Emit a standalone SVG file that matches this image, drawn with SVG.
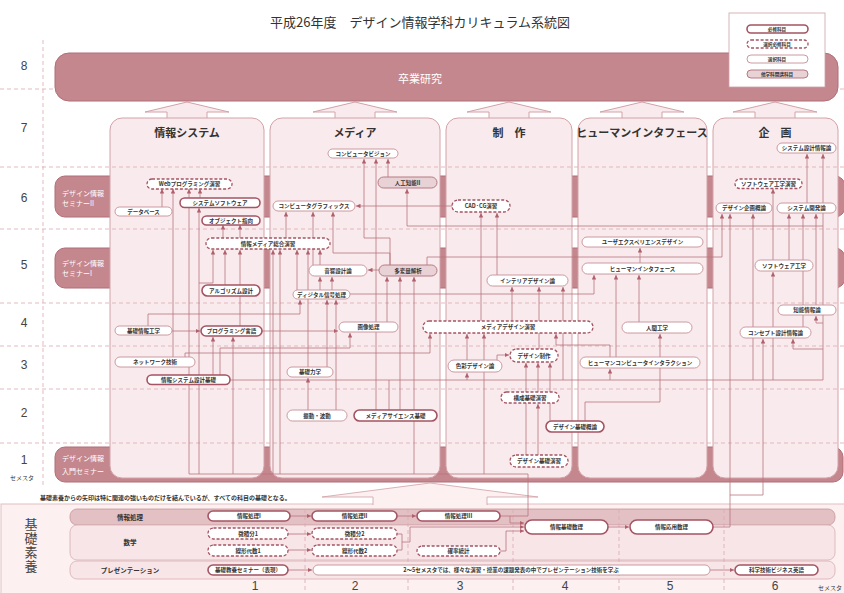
<svg xmlns="http://www.w3.org/2000/svg" width="844" height="593" viewBox="0 0 844 593">
<style>
.band{fill:#c5878e;stroke:#b06f78;stroke-width:1}
.col{fill:#f9ebed;stroke:#d2a2a8;stroke-width:1}
.arw{fill:#f9ebed;stroke:#d2a2a8;stroke-width:1}
.grid{stroke:#dcaab1;stroke-width:0.8;stroke-dasharray:4 3;fill:none}
.c{fill:none;stroke:#b9737e;stroke-width:0.8;marker-end:url(#ah)}
.cn{fill:none;stroke:#b9737e;stroke-width:0.8}
.req{fill:#fff;stroke:#a45462;stroke-width:1.6}
.sel{fill:#fff;stroke:#a45462;stroke-width:1.3;stroke-dasharray:3 1.8}
.opt{fill:#fff;stroke:#c58e96;stroke-width:0.9}
.oth{fill:#e9d2d5;stroke:#b57a83;stroke-width:1}
.t{font-family:"Noto Sans CJK JP","Noto Sans",sans-serif;font-size:5.5px;font-weight:bold;fill:#333;text-anchor:middle;dominant-baseline:central}
.lg{font-family:"Noto Sans CJK JP","Noto Sans",sans-serif;font-size:4.6px;font-weight:bold;fill:#333;text-anchor:middle;dominant-baseline:central}
.sem{font-family:"Liberation Sans","Noto Sans",sans-serif;font-size:12px;fill:#444;text-anchor:middle;dominant-baseline:central}
.ct{font-family:"Noto Sans CJK JP",sans-serif;font-size:11px;font-weight:bold;fill:#333;text-anchor:middle;dominant-baseline:central}
.wt{font-family:"Noto Sans CJK JP",sans-serif;font-size:7px;fill:#fff;dominant-baseline:central}
.sm{font-family:"Noto Sans CJK JP",sans-serif;font-size:6px;font-weight:bold;fill:#333;dominant-baseline:central}
.rl{font-family:"Noto Sans CJK JP",sans-serif;font-size:6.5px;font-weight:bold;fill:#333;text-anchor:middle;dominant-baseline:central}
</style>
<defs>
<marker id="ah" viewBox="0 0 10 10" refX="10" refY="5" markerWidth="4.5" markerHeight="4.5" markerUnits="userSpaceOnUse" orient="auto"><path d="M0,0 L10,5 L0,10 z" fill="#b0606c"/></marker>
</defs>
<rect width="844" height="593" fill="#fff"/>
<text x="420" y="21" font-family="Noto Sans CJK JP,sans-serif" font-size="13" fill="#333" text-anchor="middle" dominant-baseline="central">平成26年度　デザイン情報学科カリキュラム系統図</text>

<g id="semesters">
<text class="sem" x="24" y="66">8</text>
<text class="sem" x="24" y="128">7</text>
<text class="sem" x="24" y="198">6</text>
<text class="sem" x="24" y="265">5</text>
<text class="sem" x="24" y="323">4</text>
<text class="sem" x="24" y="365">3</text>
<text class="sem" x="24" y="413">2</text>
<text class="sem" x="24" y="460">1</text>
<text x="22" y="477" font-family="Noto Sans CJK JP,sans-serif" font-size="6" fill="#333" text-anchor="middle" dominant-baseline="central">セメスタ</text>
</g>

<g id="seminars">
<rect class="band" x="55" y="176" width="790" height="41" rx="10"/>
<rect class="band" x="55" y="248" width="790" height="40" rx="10"/>
<rect class="band" x="55" y="447" width="788" height="35" rx="10"/>
<text class="wt" x="62" y="193">デザイン情報</text>
<text class="wt" x="62" y="203">セミナーII</text>
<text class="wt" x="62" y="263">デザイン情報</text>
<text class="wt" x="62" y="273">セミナーI</text>
<text class="wt" x="62" y="458" font-size="7.5">デザイン情報</text>
<text class="wt" x="62" y="471" font-size="7.5">入門セミナー</text>
</g>

<g id="column-arrows">
<polygon class="arw" points="187,102 229,112 207,112 207,119 167,119 167,112 145,112"/>
<polygon class="arw" points="355,102 397,112 375,112 375,119 335,119 335,112 313,112"/>
<polygon class="arw" points="509,102 551,112 529,112 529,119 489,119 489,112 467,112"/>
<polygon class="arw" points="642,102 684,112 662,112 662,119 622,119 622,112 600,112"/>
<polygon class="arw" points="775,102 817,112 795,112 795,119 755,119 755,112 733,112"/>
</g>

<g id="columns">
<rect class="col" x="110" y="118" width="154" height="360" rx="12"/>
<rect class="col" x="270" y="118" width="170" height="360" rx="12"/>
<rect class="col" x="446" y="118" width="126" height="360" rx="12"/>
<rect class="col" x="578" y="118" width="129" height="360" rx="12"/>
<rect class="col" x="713" y="118" width="125" height="360" rx="12"/>
<text class="ct" x="187" y="132">情報システム</text>
<text class="ct" x="355" y="132">メディア</text>
<text class="ct" x="509" y="132">制　作</text>
<text class="ct" x="642" y="132" font-size="10">ヒューマンインタフェース</text>
<text class="ct" x="775" y="132">企　画</text>
</g>

<g id="grid">
<path class="grid" d="M0,89H844M0,167H844M0,229H844M0,303H844M0,346H844M0,389H844M0,443H844M43,40V485"/>
</g>

<g id="graduation">
<rect class="band" x="55" y="53" width="783" height="48" rx="14"/>
<text x="420" y="78" font-family="Noto Sans CJK JP,sans-serif" font-size="11" fill="#fff" text-anchor="middle" dominant-baseline="central">卒業研究</text>
</g>

<g id="legend">
<rect x="729" y="13" width="96" height="74" fill="#fff" stroke="#cfa0a6" stroke-width="0.8"/>
<rect class="req" x="747" y="25" width="61" height="8" rx="4"/><text class="lg" x="777" y="29">必修科目</text>
<rect class="sel" x="747" y="40" width="61" height="8" rx="4"/><text class="lg" x="777" y="44">選択必修科目</text>
<rect class="opt" x="747" y="55" width="61" height="8" rx="4"/><text class="lg" x="777" y="59">選択科目</text>
<rect class="oth" x="747" y="70" width="61" height="8" rx="4"/><text class="lg" x="777" y="74">他学科開講科目</text>
</g>

<g id="foundation">
<text class="sm" x="40" y="497" font-size="6.2">基礎素養からの矢印は特に関連の強いものだけを結んでいるが、すべての科目の基礎となる。</text>
<rect x="1" y="504" width="850" height="100" fill="#fcf0f1" stroke="#e2bfc3" stroke-width="1"/>
<polygon points="430,483 538,497 487,497 487,505.5 373,505.5 373,497 322,497" fill="#fcf0f1"/>
<polyline points="373,505 373,497 322,497 430,483 538,497 487,497 487,505" fill="none" stroke="#d0a0a6" stroke-width="0.8"/>
<rect x="70" y="509" width="765" height="16" rx="7" fill="#e2c0c4" stroke="#c9979d" stroke-width="0.8"/>
<rect x="70" y="525" width="765" height="35" rx="7" fill="#f7e5e8" stroke="#d8aeb3" stroke-width="0.8"/>
<rect x="70" y="561" width="765" height="18" rx="7" fill="#f7e5e8" stroke="#d8aeb3" stroke-width="0.8"/>
<text class="rl" x="130" y="517">情報処理</text>
<text class="rl" x="130" y="542">数学</text>
<text class="rl" x="130" y="570">プレゼンテーション</text>
<text x="31" y="518" writing-mode="vertical-rl" font-family="Noto Sans CJK JP,sans-serif" font-size="13" letter-spacing="1" fill="#444">基礎素養</text>
<path class="grid" d="M305,509V593M408,509V593M513,509V593M619,509V593M724,509V593"/>
<text class="sem" x="255" y="586">1</text>
<text class="sem" x="355" y="586">2</text>
<text class="sem" x="460" y="586">3</text>
<text class="sem" x="565" y="586">4</text>
<text class="sem" x="670" y="586">5</text>
<text class="sem" x="775" y="586">6</text>
<text x="830" y="587" font-family="Noto Sans CJK JP,sans-serif" font-size="6" fill="#333" text-anchor="middle" dominant-baseline="central">セメスタ</text>
</g>

<g id="connectors">
<path class="c" d="M162,207V189"/>
<path class="c" d="M173,357V189"/>
<path class="c" d="M200,198V189"/>
<path class="c" d="M189,474V189"/>
<path class="c" d="M199,474V208"/>
<path class="c" d="M199,283H213V250"/>
<path class="c" d="M225,285V250"/>
<path class="c" d="M240,326V250"/>
<path class="c" d="M223,238V225"/>
<path class="c" d="M240,238V225"/>
<path class="c" d="M172,331H200"/>
<path class="c" d="M148,326V314H300V300"/>
<path class="c" d="M213,375V337"/>
<path class="c" d="M233,474V337"/>
<path class="c" d="M262,331H338"/>
<path class="c" d="M220,375V348H350V333"/>
<path class="c" d="M185,357V353H430V334"/>
<path class="c" d="M230,380H823V154"/>
<path class="c" d="M823,349H793V339"/>
<path class="c" d="M823,323H816V316"/>
<path class="c" d="M823,226H407V189"/>
<path class="c" d="M467,380V373"/>
<path class="c" d="M610,380V369"/>
<path class="cn" d="M389,410V380"/>
<path class="c" d="M753,380V214"/>
<path class="c" d="M773,380V272"/>
<path class="c" d="M816,305V214"/>
<path class="c" d="M789,260V214"/>
<path class="c" d="M803,327V214"/>
<path class="c" d="M807,203V154"/>
<path class="c" d="M773,260V189"/>
<path class="c" d="M427,265V257H722V214"/>
<path class="c" d="M713,527H730V214"/>
<path class="c" d="M730,495H763V339"/>
<path class="c" d="M388,177V159"/>
<path class="c" d="M390,265V238H364V159"/>
<path class="c" d="M390,265V253H333V212"/>
<path class="c" d="M376,410V159"/>
<path class="c" d="M452,206H356"/>
<path class="c" d="M286,238V212"/>
<path class="c" d="M313,265V212"/>
<path class="c" d="M379,270H368"/>
<path class="c" d="M320,290V277"/>
<path class="c" d="M332,290V277"/>
<path class="c" d="M308,410V378"/>
<path class="c" d="M327,367V300"/>
<path class="c" d="M336,410V300"/>
<path class="c" d="M273,474V250"/>
<path class="c" d="M280,474V250"/>
<path class="c" d="M297,290V250"/>
<path class="c" d="M308,367V250"/>
<path class="c" d="M320,265V250"/>
<path class="c" d="M400,410V277"/>
<path class="c" d="M414,474V277"/>
<path class="c" d="M387,322V277"/>
<path class="c" d="M497,275V213"/>
<path class="c" d="M481,321V213"/>
<path class="c" d="M484,474V334"/>
<path class="c" d="M512,321V287"/>
<path class="c" d="M539,349V287"/>
<path class="c" d="M563,380V287"/>
<path class="c" d="M467,360V334"/>
<path class="c" d="M610,357V345H556V334"/>
<path class="c" d="M497,360V355H509"/>
<path class="c" d="M526,455V363"/>
<path class="c" d="M538,392V363"/>
<path class="c" d="M550,421V363"/>
<path class="c" d="M538,455V404"/>
<path class="c" d="M585,421V402H660V334"/>
<path class="c" d="M640,263V248"/>
<path class="c" d="M639,322V275"/>
<path class="c" d="M616,357V275"/>
<path class="c" d="M350,294H594V275"/>
<path class="cn" d="M500,516H528V474H189"/>
<path class="c" d="M290,516H311"/>
<path class="c" d="M397,516H416"/>
<path class="c" d="M288,534H311"/>
<path class="c" d="M288,550H311"/>
<path class="cn" d="M397,534H402V550H397"/>
<path class="c" d="M402,542H410V527H524"/>
<path class="c" d="M510,516V523H524"/>
<path class="c" d="M500,551H506V531H524"/>
<path class="c" d="M608,527H629"/>
<path class="c" d="M288,570H312"/>
<path class="c" d="M710,570H734"/>
</g>

<g id="n-web"><rect class="sel" x="147" y="179" width="85" height="10" rx="5"/><text class="t" x="189.5" y="184">Webプログラミング演習</text></g>
<g id="n-syssoft"><rect class="req" x="180" y="198" width="80" height="9.5" rx="4.7"/><text class="t" x="220" y="203">システムソフトウェア</text></g>
<g id="n-db"><rect class="opt" x="115" y="207" width="57" height="9" rx="4.5"/><text class="t" x="143.5" y="211.5">データベース</text></g>
<g id="n-oop"><rect class="req" x="202" y="216" width="58" height="9" rx="4.5"/><text class="t" x="231" y="220.5">オブジェクト指向</text></g>
<g id="n-sogo"><rect class="sel" x="206" y="238" width="124" height="11" rx="5.5"/><text class="t" x="268" y="243.5">情報メディア総合演習</text></g>
<g id="n-algo"><rect class="req" x="202" y="285" width="58" height="11" rx="5.5"/><text class="t" x="231" y="290.5">アルゴリズム設計</text></g>
<g id="n-kiso"><rect class="opt" x="115" y="326" width="57" height="9" rx="4.5"/><text class="t" x="143.5" y="330.5">基礎情報工学</text></g>
<g id="n-prog"><rect class="req" x="201" y="326" width="61" height="10" rx="5"/><text class="t" x="231.5" y="331">プログラミング言語</text></g>
<g id="n-net"><rect class="opt" x="115" y="357" width="80" height="10" rx="5"/><text class="t" x="155" y="362">ネットワーク技術</text></g>
<g id="n-sysdesign"><rect class="req" x="147" y="375" width="83" height="9.5" rx="4.7"/><text class="t" x="188.5" y="380">情報システム設計基礎</text></g>

<g id="n-cv"><rect class="opt" x="328" y="149" width="70" height="9" rx="4.5"/><text class="t" x="363" y="153.5">コンピュータビジョン</text></g>
<g id="n-ai"><rect class="oth" x="378" y="177" width="59" height="11" rx="5.5"/><text class="t" x="407.5" y="182.5">人工知能II</text></g>
<g id="n-cg"><rect class="opt" x="273" y="201" width="82" height="10" rx="5"/><text class="t" x="314" y="206">コンピュータグラフィックス</text></g>
<g id="n-onkyo"><rect class="opt" x="309" y="265" width="58" height="11" rx="5.5"/><text class="t" x="338" y="270.5">音響設計論</text></g>
<g id="n-tahenryo"><rect class="oth" x="379" y="265" width="58" height="11" rx="5.5"/><text class="t" x="408" y="270.5">多変量解析</text></g>
<g id="n-dsp"><rect class="opt" x="293" y="290" width="57" height="9" rx="4.5"/><text class="t" x="321.5" y="294.5">ディジタル信号処理</text></g>
<g id="n-img"><rect class="opt" x="339" y="322" width="59" height="10" rx="5"/><text class="t" x="368.5" y="327">画像処理</text></g>
<g id="n-rikigaku"><rect class="opt" x="287" y="367" width="46" height="10" rx="5"/><text class="t" x="310" y="372">基礎力学</text></g>
<g id="n-shindo"><rect class="opt" x="287" y="410" width="60" height="11" rx="5.5"/><text class="t" x="317" y="415.5">振動・波動</text></g>
<g id="n-mediasci"><rect class="req" x="354" y="410" width="83" height="11" rx="5.5"/><text class="t" x="395.5" y="415.5">メディアサイエンス基礎</text></g>

<g id="n-cadcg"><rect class="sel" x="452" y="200" width="58" height="12" rx="6"/><text class="t" x="481" y="206">CAD·CG演習</text></g>
<g id="n-interior"><rect class="opt" x="487" y="275" width="81" height="11" rx="5.5"/><text class="t" x="527.5" y="280.5">インテリアデザイン論</text></g>
<g id="n-mediadesign"><rect class="sel" x="423" y="321" width="170" height="12" rx="6"/><text class="t" x="508" y="327">メディアデザイン演習</text></g>
<g id="n-shikisai"><rect class="opt" x="448" y="360" width="54" height="12" rx="6"/><text class="t" x="475" y="366">色彩デザイン論</text></g>
<g id="n-designsei"><rect class="sel" x="510" y="349" width="48" height="13" rx="6.5"/><text class="t" x="534" y="355.5">デザイン制作</text></g>
<g id="n-kosei"><rect class="sel" x="501" y="392" width="58" height="11" rx="5.5"/><text class="t" x="530" y="397.5">構成基礎演習</text></g>
<g id="n-designgai"><rect class="req" x="546" y="421" width="58" height="11" rx="5.5"/><text class="t" x="575" y="426.5">デザイン基礎概論</text></g>
<g id="n-designen"><rect class="sel" x="510" y="455" width="58" height="12" rx="6"/><text class="t" x="539" y="461">デザイン基礎演習</text></g>

<g id="n-uxd"><rect class="opt" x="582" y="237" width="121" height="10" rx="5"/><text class="t" x="642.5" y="242">ユーザエクスペリエンスデザイン</text></g>
<g id="n-hi"><rect class="opt" x="582" y="263" width="121" height="11" rx="5.5"/><text class="t" x="642.5" y="268.5">ヒューマンインタフェース</text></g>
<g id="n-ningen"><rect class="opt" x="622" y="322" width="70" height="11" rx="5.5"/><text class="t" x="657" y="327.5">人間工学</text></g>
<g id="n-hci"><rect class="opt" x="580" y="357" width="120" height="11" rx="5.5"/><text class="t" x="640" y="362.5">ヒューマンコンピュータインタラクション</text></g>

<g id="n-sysjoho"><rect class="opt" x="777" y="143" width="59" height="10" rx="5"/><text class="t" x="806.5" y="148">システム設計情報論</text></g>
<g id="n-swen"><rect class="sel" x="735" y="179" width="67" height="9.5" rx="4.7"/><text class="t" x="768.5" y="184">ソフトウェア工学演習</text></g>
<g id="n-kikaku"><rect class="opt" x="716" y="203" width="56" height="10" rx="5"/><text class="t" x="744" y="208">デザイン企画概論</text></g>
<g id="n-syskaihatsu"><rect class="opt" x="777" y="203" width="59" height="10" rx="5"/><text class="t" x="806.5" y="208">システム開発論</text></g>
<g id="n-sw"><rect class="opt" x="755" y="260" width="58" height="11" rx="5.5"/><text class="t" x="784" y="265.5">ソフトウェア工学</text></g>
<g id="n-chino"><rect class="opt" x="778" y="305" width="58" height="10" rx="5"/><text class="t" x="807" y="310">知能情報論</text></g>
<g id="n-concept"><rect class="opt" x="740" y="327" width="71" height="11" rx="5.5"/><text class="t" x="775.5" y="332.5">コンセプト設計情報論</text></g>

<g id="n-joho1"><rect class="req" x="208" y="511" width="82" height="10" rx="5"/><text class="t" x="249" y="516">情報処理I</text></g>
<g id="n-joho2"><rect class="req" x="312" y="511" width="85" height="10" rx="5"/><text class="t" x="354.5" y="516">情報処理II</text></g>
<g id="n-joho3"><rect class="req" x="417" y="511" width="83" height="10" rx="5"/><text class="t" x="458.5" y="516">情報処理III</text></g>
<g id="n-bibun1"><rect class="sel" x="208" y="528" width="80" height="11" rx="5.5"/><text class="t" x="248" y="533.5">微積分1</text></g>
<g id="n-senkei1"><rect class="sel" x="208" y="545" width="80" height="11" rx="5.5"/><text class="t" x="248" y="550.5">線形代数1</text></g>
<g id="n-bibun2"><rect class="sel" x="312" y="528" width="85" height="11" rx="5.5"/><text class="t" x="354.5" y="533.5">微積分2</text></g>
<g id="n-senkei2"><rect class="sel" x="312" y="545" width="85" height="11" rx="5.5"/><text class="t" x="354.5" y="550.5">線形代数2</text></g>
<g id="n-kakuritsu"><rect class="sel" x="417" y="546" width="83" height="10" rx="5"/><text class="t" x="458.5" y="551">確率統計</text></g>
<g id="n-kisosuri"><rect class="req" x="525" y="520" width="83" height="14" rx="7"/><text class="t" x="566.5" y="527">情報基礎数理</text></g>
<g id="n-oyosuri"><rect class="req" x="630" y="520" width="83" height="14" rx="7"/><text class="t" x="671.5" y="527">情報応用数理</text></g>
<g id="n-kyoyo"><rect class="req" x="208" y="565" width="80" height="10" rx="5"/><text class="t" x="248" y="570">基礎教養セミナー（表現）</text></g>
<g id="n-present"><rect class="opt" x="313" y="565" width="397" height="10" rx="5"/><text class="t" x="511" y="570">2〜5セメスタでは、様々な演習・授業の課題発表の中でプレゼンテーション技術を学ぶ</text></g>
<g id="n-eigo"><rect class="req" x="735" y="565" width="83" height="10" rx="5"/><text class="t" x="776.5" y="570">科学技術ビジネス英語</text></g>
</svg>
